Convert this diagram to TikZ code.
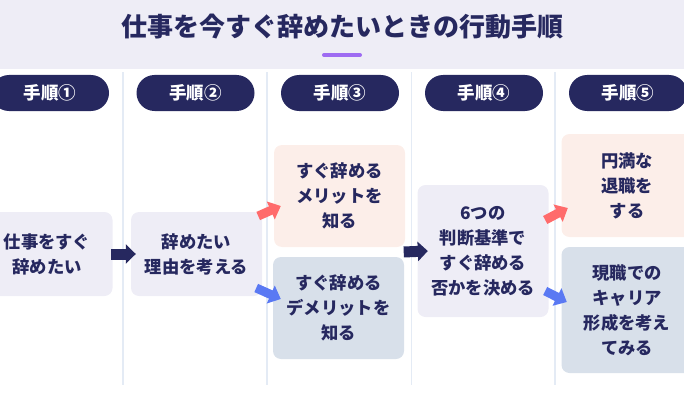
\documentclass[tikz,border=0pt]{standalone}
\usepackage{fontspec}
\newfontfamily\jp{Noto Sans CJK JP}
\usetikzlibrary{arrows.meta,calc}
\definecolor{navy}{HTML}{26285F}
\definecolor{lav}{HTML}{EEEDF6}
\definecolor{pinkbox}{HTML}{FCEEE9}
\definecolor{bluebox}{HTML}{D8E0EA}
\definecolor{arrred}{HTML}{FF6B6B}
\definecolor{arrblue}{HTML}{5A79F3}
\definecolor{purp}{HTML}{9E6BF2}
\definecolor{divline}{HTML}{E4EBF5}
\tikzset{
  box/.style={rounded corners=8pt, minimum width=131pt, inner sep=0pt, align=center,
    font=\jp\bfseries\fontsize{17.3}{25}\selectfont, text=navy},
  pill/.style={fill=navy, rounded corners=18pt, minimum width=118pt, minimum height=36pt,
    inner sep=0pt, text=white, font=\jp\bfseries\fontsize{17.5}{20}\selectfont},
  navyarrow/.style={draw=navy, line width=11pt, -{Triangle[width=19pt,length=10pt]}},
  redarrow/.style={draw=arrred, line width=9pt, -{Triangle[width=19pt,length=11pt]}},
  bluearrow/.style={draw=arrblue, line width=9pt, -{Triangle[width=19pt,length=11pt]}},
  divider/.style={draw=divline, line width=1.3pt}
}
\begin{document}
\begin{tikzpicture}[x=1pt,y=-1pt]
\useasboundingbox (0,0) rectangle (684,393);
% header
\fill[lav] (0,0) rectangle (684,69);
\node[font=\jp\bfseries\fontsize{26}{30}\selectfont, text=navy] (title) at (342,27) {仕事を今すぐ辞めたいときの行動手順};
\coordinate (ul1) at (324,55);
\coordinate (ul2) at (360,55);
\draw[purp, line width=4pt, line cap=round] (ul1) -- (ul2);
% dividers
\foreach \x [count=\i] in {123,267,411.5,555}{
  \coordinate (dt\i) at (\x,72);
  \coordinate (db\i) at (\x,385);
  \draw[divider] (dt\i) -- (db\i);
}
% pills
\node[pill] (p1) at (50,93) {手順①};
\node[pill] (p2) at (195.5,93) {手順②};
\node[pill] (p3) at (340,93) {手順③};
\node[pill] (p4) at (484,93) {手順④};
\node[pill] (p5) at (628,93) {手順⑤};
% boxes
\node[box, fill=lav, minimum height=84pt] (b1) at (47,254) {仕事をすぐ\\辞めたい};
\node[box, fill=lav, minimum height=84pt] (b2) at (196.5,254) {辞めたい\\理由を考える};
\node[box, fill=pinkbox, minimum height=102pt] (b3a) at (339.5,196) {すぐ辞める\\メリットを\\知る};
\node[box, fill=bluebox, minimum height=102pt] (b3b) at (338.5,308) {すぐ辞める\\デメリットを\\知る};
\node[box, fill=lav, minimum height=132pt] (b4) at (483,251) {6つの\\判断基準で\\すぐ辞める\\否かを決める};
\node[box, fill=pinkbox, minimum height=103pt] (b5a) at (627,185.5) {円満な\\退職を\\する};
\node[box, fill=bluebox, minimum height=126pt] (b5b) at (627,310) {現職での\\キャリア\\形成を考え\\てみる};
% arrows
\draw[navyarrow] ([xshift=-1.5pt]b1.east) -- ([xshift=5pt]b2.west);
\draw[navyarrow] ([xshift=-1pt]$(b3a.south east)!0.5!(b3b.north east)$) -- ([xshift=10.5pt]b4.west);
\draw[redarrow] ([shift={(-4,-38)}]b2.east) -- ([shift={(7,10)}]b3a.west);
\draw[bluearrow] ([shift={(-6,34)}]b2.east) -- ([shift={(8,-9)}]b3b.west);
\draw[redarrow] ([shift={(-3.5,-31)}]b4.east) -- ([shift={(6.5,22.5)}]b5a.west);
\draw[bluearrow] ([shift={(-3.5,40)}]b4.east) -- ([shift={(5.5,-8)}]b5b.west);
\end{tikzpicture}
\end{document}
